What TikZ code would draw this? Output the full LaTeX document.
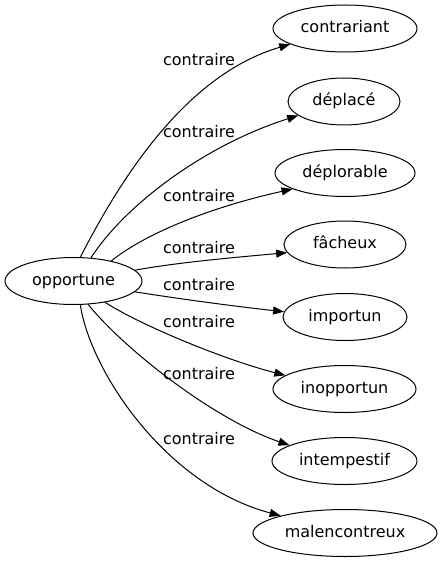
\documentclass[tikz,border=0pt]{standalone}
\usepackage{fontspec}
\setmainfont{DejaVu Sans}
\usetikzlibrary{arrows.meta,shapes.geometric}
\begin{document}
\begin{tikzpicture}[x=1bp,y=-1bp,
  every node/.style={font=\fontsize{16bp}{19bp}\selectfont, text height=12bp, text depth=3.5bp, inner sep=0pt},
  word/.style={ellipse, draw, line width=1bp, minimum height=47bp},
  rel/.style={draw, line width=1bp, -{Triangle[length=11bp,width=8bp]}},
  lbl/.style={fill=none}]
\useasboundingbox (0,0) rectangle (441,563);
\node[word, minimum width=137bp] (opp) at (73.5,281) {opportune};
\node[word, minimum width=144bp] (n1) at (345,28.5) {contrariant};
\node[word, minimum width=112bp] (n2) at (344,101.5) {déplacé};
\node[word, minimum width=140bp] (n3) at (345,173) {déplorable};
\node[word, minimum width=122bp] (n4) at (345,244.5) {fâcheux};
\node[word, minimum width=124bp] (n5) at (345,317) {importun};
\node[word, minimum width=143bp] (n6) at (344.5,389) {inopportun};
\node[word, minimum width=145bp] (n7) at (344.5,461) {intempestif};
\node[word, minimum width=184bp] (n8) at (345,533) {malencontreux};

\draw[rel] (opp.74) .. controls (120,180) and (185,75) .. (n1.196);
\draw[rel] (opp.53) .. controls (125,205) and (205,145) .. (n2.197);
\draw[rel] (opp.28) .. controls (150,230) and (220,205) .. (n3.197);
\draw[rel] (opp.10) .. controls (180,262) and (240,257) .. (n4.188);
\draw[rel] (opp.-10) .. controls (180,299) and (240,307) .. (n5.175);
\draw[rel] (opp.-34) .. controls (140,325) and (225,360) .. (n6.167);
\draw[rel] (opp.-58) .. controls (125,350) and (215,420) .. (n7.164);
\draw[rel] (opp.-74) .. controls (90,370) and (165,485) .. (n8.165);

\node[lbl] (l1) at (199,61) {contraire};
\node[lbl] (l2) at (199,133) {contraire};
\node[lbl] (l3) at (199,197) {contraire};
\node[lbl] (l4) at (199,249) {contraire};
\node[lbl] (l5) at (199,286) {contraire};
\node[lbl] (l6) at (199,323) {contraire};
\node[lbl] (l7) at (199,375) {contraire};
\node[lbl] (l8) at (199,440) {contraire};
\end{tikzpicture}
\end{document}
